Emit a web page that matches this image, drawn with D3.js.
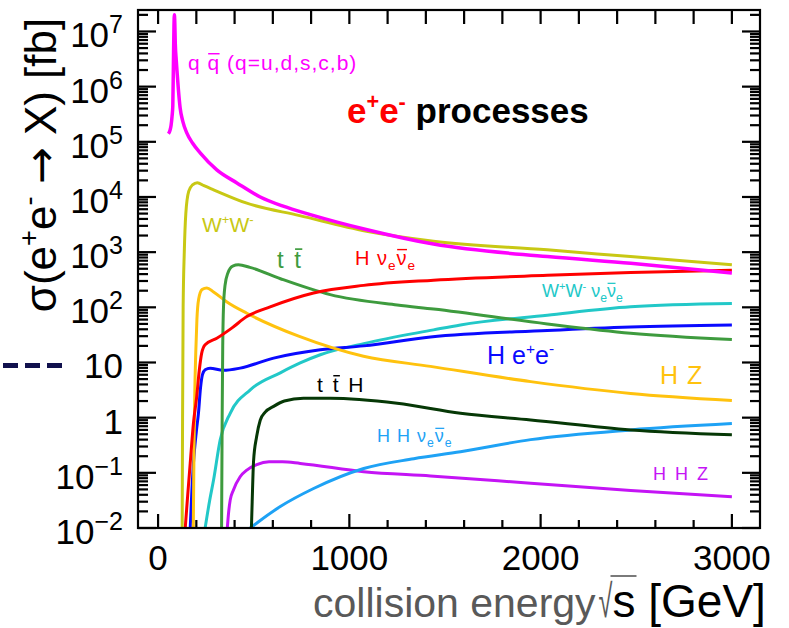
<!DOCTYPE html>
<html>
<head>
<meta charset="utf-8">
<script src="https://cdn.jsdelivr.net/npm/d3@7"></script>
<style>
  html, body { margin: 0; padding: 0; background: #fff; }
  svg { display: block; }
  text { font-family: "Liberation Sans", Arial, sans-serif; }
</style>
</head>
<body>
<div class="container"></div>
<script>
// cross sections: [sqrt(s) in GeV, sigma in fb]
const sQQ = [[54,1.4e5],[62,1.6e5],[68,2.0e5],[73,2.9e5],[77,4.5e5],[80,2.3e6],[83,1.2e7],[85,2.0e7],[87,1.6e7],
  [90,6e6],[95,3e6],[100,1.7e6],[106,9e5],[115,4.2e5],[130,2.3e5],[150,1.45e5],[180,9.5e4],[220,6.3e4],
  [307,3.1e4],[412,1.8e4],[534,1.0e4],[654,6.8e3],[796,4.8e3],[1093,2.55e3],[1440,1.4e3],[2035,830],[2471,630],[3000,420]]
const sWW = [[126,0.01],[128,1],[131,100],[137,1000],[145,5000],[160,1.26e4],[180,1.66e4],[205,1.82e4],[240,1.6e4],
  [290,1.35e4],[460,7.8e3],[740,4.6e3],[1090,2.4e3],[1440,1.58e3],[2035,1.1e3],[2470,830],[3000,590]]
const sTT = [[332,0.01],[335,1],[338,20],[342,100],[350,250],[365,420],[390,560],[420,590],[480,530],[640,330],
  [900,170],[1250,110],[1440,93],[2035,50],[2470,34],[3000,26]]
const sHZ = [[184,0.01],[188,0.3],[192,3],[197,15],[203,60],[212,140],[230,210],[255,225],[290,190],[360,125],
  [464,78],[735,30],[1074,13],[1424,8.5],[1948,4.5],[2471,2.75],[3000,2.05]]
const sHNN = [[142,0.01],[155,0.04],[168,0.15],[185,0.8],[202,2.4],[215,7],[228,14.8],[246,21],[307,27.5],[385,42],
  [464,68],[586,102],[813,182],[1075,250],[1440,310],[2035,380],[2471,427],[3000,468]]
const sHEE = [[168,0.01],[178,0.06],[185,0.15],[200,0.56],[211,1.2],[222,3.5],[232,6],[246,7.4],[272,7.9],[340,7.2],
  [429,7.9],[604,12],[848,17],[1075,20],[1424,29],[2035,38],[2471,44],[3000,48]]
const sWWNN = [[246,0.01],[270,0.032],[290,0.074],[325,0.4],[377,1.2],[482,3.2],[639,6.5],[743,9.8],[848,13.8],
  [1075,22],[1440,39],[1581,48],[2035,72],[2471,102],[3000,117]]
const sTTH = [[488,0.01],[492,0.03],[499,0.16],[515,0.45],[534,0.9],[560,1.26],[604,1.6],[660,2.0],[760,2.24],
  [900,2.24],[1250,1.82],[1581,1.2],[1948,0.91],[2471,0.6],[3000,0.49]]
const sHHZ = [[362,0.01],[368,0.018],[377,0.032],[394,0.049],[429,0.085],[464,0.112],[516,0.141],[580,0.158],
  [650,0.158],[743,0.148],[1075,0.105],[1424,0.088],[1948,0.065],[2471,0.048],[3000,0.037]]
const sHHNN = [[482,0.01],[520,0.0126],[639,0.0245],[813,0.052],[1075,0.12],[1337,0.18],[1581,0.24],[1948,0.40],
  [2471,0.60],[3000,0.78]]

// ticks
const xTicks = [0, 1000, 2000, 3000]
const xMinorTicks = [200, 400, 600, 800, 1200, 1400, 1600, 1800, 2200, 2400, 2600, 2800]
const yExponents = [-2, -1, 0, 1, 2, 3, 4, 5, 6, 7]

// 画布
const w = 789
const h = 628
const frame = {left: 138, right: 760, top: 10, bottom: 528}

const svg = d3.select('.container')
  .append('svg')
  .attr('width', w)
  .attr('height', h)

const xScale = d3.scaleLinear().domain([-105, 3147]).range([frame.left, frame.right])
const yScale = d3.scaleLog().domain([1e-2, 2.45e7]).range([frame.bottom, frame.top])

const yMajor = yExponents.map(e => Math.pow(10, e))
const yMinor = []
yExponents.forEach(e => {
  for (let k = 2; k <= 9; k++) {
    const v = k * Math.pow(10, e)
    if (v < yScale.domain()[1]) yMinor.push(v)
  }
})

// 曲线
svg.append('clipPath').attr('id', 'plotclip')
  .append('rect')
  .attr('x', frame.left).attr('y', frame.top)
  .attr('width', frame.right - frame.left).attr('height', frame.bottom - frame.top)

const lineGen = d3.line()
  .x(d => xScale(d[0]))
  .y(d => yScale(d[1]))
  .curve(d3.curveMonotoneX)

const curves = [
  {data: sHHZ, color: '#c414f5', width: 3},
  {data: sHHNN, color: '#1ea2f5', width: 3},
  {data: sTTH, color: '#063806', width: 3},
  {data: sWWNN, color: '#22c8c8', width: 3},
  {data: sHEE, color: '#0a0aff', width: 3},
  {data: sHZ, color: '#ffc20e', width: 3},
  {data: sTT, color: '#3e9b3e', width: 3},
  {data: sHNN, color: '#ff0000', width: 3},
  {data: sWW, color: '#c8c814', width: 3},
  {data: sQQ, color: '#ff00ff', width: 3.5}
]

svg.append('g')
  .attr('clip-path', 'url(#plotclip)')
  .selectAll('path')
  .data(curves)
  .enter()
  .append('path')
  .attr('d', d => lineGen(d.data))
  .attr('fill', 'none')
  .attr('stroke', d => d.color)
  .attr('stroke-width', d => d.width)
  .attr('stroke-linejoin', 'round')

svg.append('rect')
  .attr('x', frame.left).attr('y', frame.top)
  .attr('width', frame.right - frame.left).attr('height', frame.bottom - frame.top)
  .attr('fill', 'none').attr('stroke', '#000').attr('stroke-width', 2.2)

// x 轴刻度文字
svg.append('g')
  .selectAll('text')
  .data(xTicks)
  .enter()
  .append('text')
  .attr('x', d => xScale(d))
  .attr('y', 570)
  .attr('text-anchor', 'middle')
  .attr('font-size', 35)
  .text(d => d3.format('d')(d))

// y 轴刻度文字
yExponents.forEach(e => {
  const t = svg.append('text')
    .attr('x', 123)
    .attr('y', yScale(Math.pow(10, e)) + 16)
    .attr('text-anchor', 'end')
    .attr('font-size', 35)
  if (e === 0) t.text('1')
  else if (e === 1) t.text('10')
  else {
    t.append('tspan').text('10')
    t.append('tspan').attr('font-size', 25).attr('dy', -14)
      .text(e < 0 ? '\u2212' + (-e) : String(e))
  }
})

// 带上下标的文字
function richText(x, y, size, color, parts, opts) {
  opts = opts || {}
  const t = svg.append('text')
    .attr('x', x).attr('y', y)
    .attr('font-size', size)
    .attr('fill', color)
  if (opts.family) t.attr('font-family', opts.family)
  if (opts.weight) t.attr('font-weight', opts.weight)
  if (opts.spacing) t.attr('letter-spacing', opts.spacing)
  if (opts.anchor) t.attr('text-anchor', opts.anchor)
  if (opts.transform) t.attr('transform', opts.transform)
  let shift = 0
  let idx = 0
  const bars = []
  parts.forEach(p => {
    const kind = p[1] || ''
    let target = 0
    const s = t.append('tspan').text(p[0])
    if (kind === 'sup') { target = -size * 0.4; s.attr('font-size', size * 0.62) }
    if (kind === 'sub') { target = size * 0.25; s.attr('font-size', size * 0.68) }
    if (target !== shift) { s.attr('dy', target - shift); shift = target }
    if (p[2]) s.attr('fill', p[2])
    if (p[3]) s.attr('font-family', p[3])
    if (kind === 'bar') bars.push(idx)
    idx += p[0].length
  })
  const node = t.node()
  bars.forEach(i => {
    const ext = node.getExtentOfChar(i)
    svg.append('line')
      .attr('x1', ext.x + size * 0.03).attr('x2', ext.x + ext.width - size * 0.03)
      .attr('y1', ext.y + size * 0.13).attr('y2', ext.y + size * 0.13)
      .attr('stroke', color).attr('stroke-width', size * 0.07)
  })
  return t
}

richText(188, 70, 21, '#ff00ff', [['q '], ['q', 'bar'], [' (q=u,d,s,c,b)']], {spacing: 1})
richText(202, 232, 21, '#c8c814', [['W'], ['+', 'sup'], ['W'], ['-', 'sup']])
richText(277, 268, 24, '#3e9b3e', [['t '], ['t', 'bar']], {spacing: 2})
richText(355, 265, 20, '#ff0000', [['H \u03bd'], ['e', 'sub'], ['\u03bd', 'bar'], ['e', 'sub']], {spacing: 1})
richText(542, 297, 18, '#22c8c8', [['W'], ['+', 'sup'], ['W'], ['-', 'sup'], [' \u03bd'], ['e', 'sub'], ['\u03bd', 'bar'], ['e', 'sub']])
richText(487, 364, 25, '#0a0aff', [['H e'], ['+', 'sup'], ['e'], ['-', 'sup']])
richText(660, 384, 25, '#ffc20e', [['H Z']], {spacing: 1})
richText(317, 392, 21, '#000000', [['t '], ['t', 'bar'], [' H']], {spacing: 2})
richText(377, 442, 18, '#1ea2f5', [['H H \u03bd'], ['e', 'sub'], ['\u03bd', 'bar'], ['e', 'sub']], {spacing: 1})
richText(653, 480, 18, '#c414f5', [['H H Z']], {spacing: 2})

// 标题
richText(347, 123, 35, '#ff0000', [['e'], ['+', 'sup'], ['e'], ['-', 'sup'], [' processes', '', '#000000']],
  {family: 'Lato, "Open Sans", sans-serif', weight: 'bold'})

// y 轴标题
richText(0, 0, 44, '#000', [['\u03c3(e'], ['+', 'sup'], ['e'], ['-', 'sup'],
  [' '], ['\u2192', '', null, '"DejaVu Sans", sans-serif'], [' X) [fb]']],
  {anchor: 'middle', transform: 'translate(56,165) rotate(-90)'})

// x 轴标题
const xBase = 617
const t1 = svg.append('text').attr('x', 313).attr('y', xBase)
  .attr('font-family', 'Lato, sans-serif').attr('font-size', 41).attr('fill', '#595959')
  .text('collision energy')
const x2 = 313 + t1.node().getComputedTextLength() + 3
const t2 = svg.append('text')
  .attr('transform', 'translate(' + x2 + ',' + xBase + ') scale(0.55,1)')
  .attr('font-size', 46).attr('fill', '#595959')
  .text('\u221a')
const x3 = x2 + t2.node().getComputedTextLength() * 0.55
const t3 = svg.append('text').attr('x', x3).attr('y', xBase)
  .attr('font-size', 46).attr('fill', '#000')
  .text('s [GeV]')
const sExt = t3.node().getExtentOfChar(0)
svg.append('line')
  .attr('x1', x3 - 2).attr('x2', sExt.x + sExt.width + 1)
  .attr('y1', xBase - 41).attr('y2', xBase - 41)
  .attr('stroke', '#595959').attr('stroke-width', 1.6)

// 左侧虚线
svg.append('line')
  .attr('x1', 3).attr('x2', 63)
  .attr('y1', yScale(10) + 3).attr('y2', yScale(10) + 3)
  .attr('stroke', '#11114d').attr('stroke-width', 5)
  .attr('stroke-dasharray', '15 7')

// 刻度 (朝内)
const tickGroup = svg.append('g').attr('class', 'ticks')
const tickW = 2.2
function xTickRects(values, y0, dir, len) {
  tickGroup.append('g').selectAll('rect').data(values).enter().append('rect')
    .attr('x', v => xScale(v) - tickW / 2)
    .attr('y', dir > 0 ? y0 : y0 - len)
    .attr('width', tickW)
    .attr('height', len)
    .attr('fill', '#000')
}
function yTickRects(values, x0, dir, len) {
  tickGroup.append('g').selectAll('rect').data(values).enter().append('rect')
    .attr('x', dir > 0 ? x0 : x0 - len)
    .attr('y', v => yScale(v) - tickW / 2)
    .attr('width', len)
    .attr('height', tickW)
    .attr('fill', '#000')
}
xTickRects(xTicks, frame.bottom, -1, 14)
xTickRects(xMinorTicks, frame.bottom, -1, 8)
xTickRects(xTicks.concat(xMinorTicks), frame.top, 1, 14)
yTickRects(yMajor, frame.left, 1, 18)
yTickRects(yMinor, frame.left, 1, 10)
yTickRects(yMajor, frame.right, -1, 18)
yTickRects(yMinor, frame.right, -1, 10)
</script>
</body>
</html>
